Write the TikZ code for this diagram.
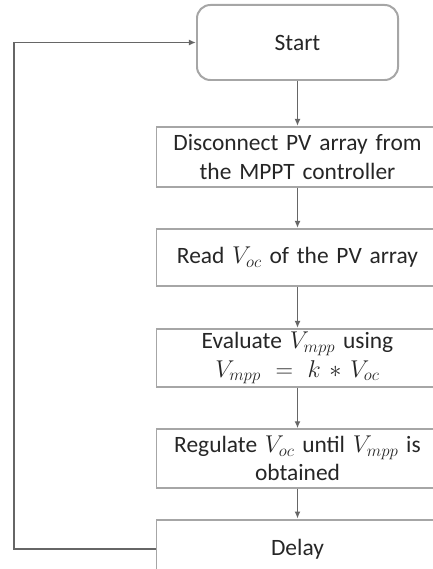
\documentclass[tikz,border=0pt]{standalone}
\usepackage{fontspec}
\setmainfont{Carlito}
\usepackage{tikz}
\usetikzlibrary{arrows.meta,positioning,calc}

\begin{document}
\begin{tikzpicture}[
    startbox/.style={draw=gray!70, line width=1.7pt, rounded corners=0.4cm, minimum width=6.03cm, minimum height=2.25cm, align=center},
    stepbox/.style={draw=gray!70, line width=1.7pt, text width=8.2cm, minimum width=8.46cm, minimum height=1.75cm, align=center, inner sep=0pt},
    link/.style={draw=gray!80!black, line width=1.4pt, -{Latex[length=6pt,width=5pt]}},
    every node/.style={font=\fontsize{20}{24}\selectfont, text=black!85}
]
\useasboundingbox (0,0) rectangle (12.96,-17.07);

\node [startbox] (start) at (8.925,-1.275) {Start};
\node [stepbox, minimum height=1.8cm, below=1.35cm of start] (disconnect) {Disconnect PV array from\\the MPPT controller};
\node [stepbox, minimum height=1.71cm, below=1.2cm of disconnect] (read) {Read $V_{oc}$ of the PV array};
\node [stepbox, below=1.23cm of read] (evaluate) {Evaluate $V_{mpp}$ using\\$V_{mpp}=k*V_{oc}$};
\node [stepbox, below=1.2cm of evaluate] (regulate) {Regulate $V_{oc}$ until $V_{mpp}$ is\\obtained};
\node [stepbox, below=0.9cm of regulate] (delay) {Delay};

\coordinate (loop) at (0.42,0);

\draw [link] (start) -- (disconnect);
\draw [link] (disconnect) -- (read);
\draw [link] (read) -- (evaluate);
\draw [link] (evaluate) -- (regulate);
\draw [link] (regulate) -- (delay);
\draw [link] (delay.west) -- (delay.west -| loop) |- (start.west);

\end{tikzpicture}
\end{document}
